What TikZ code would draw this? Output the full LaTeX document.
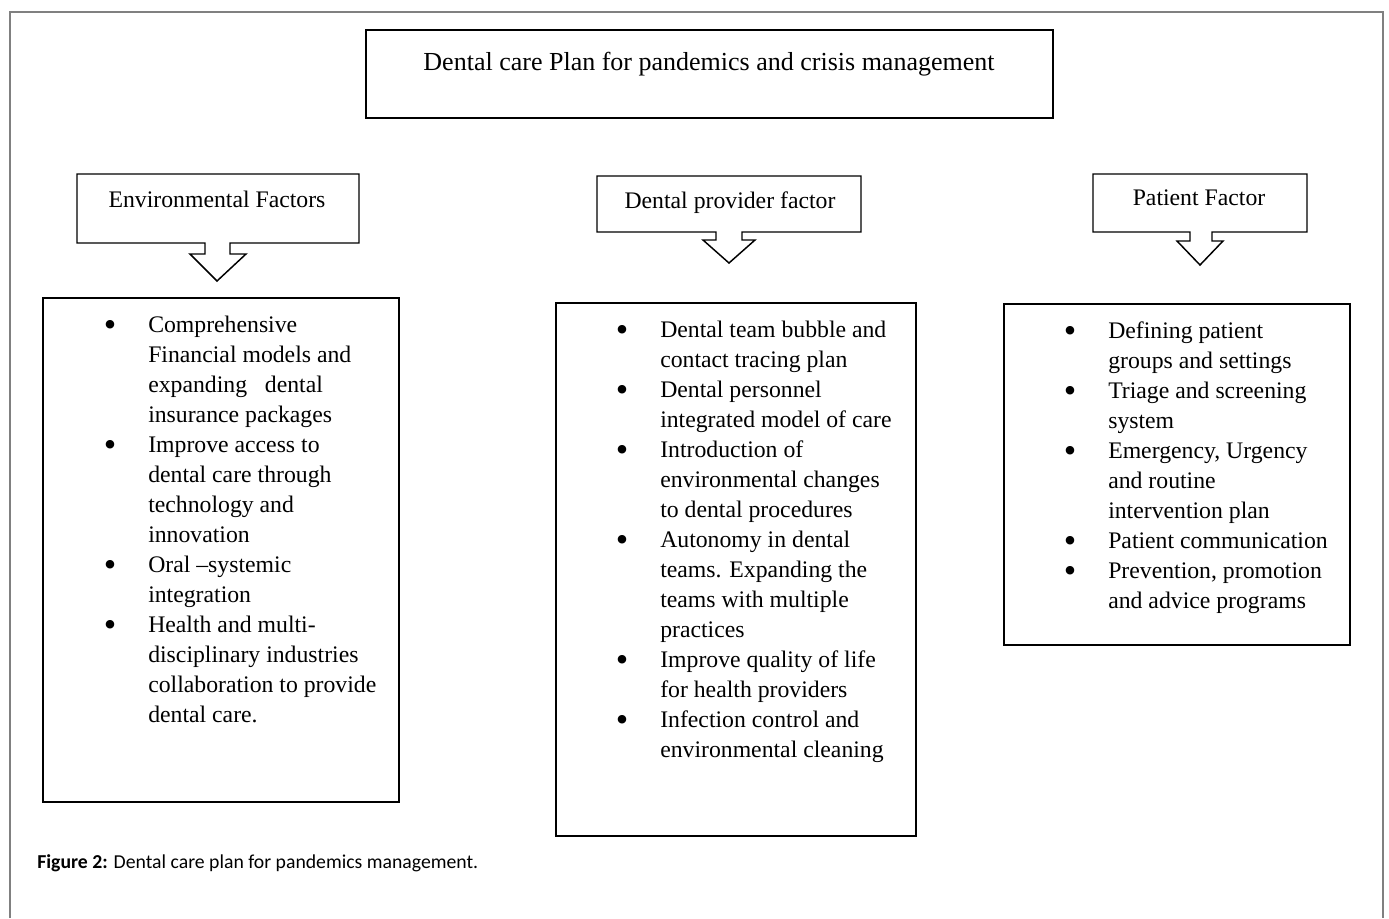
\documentclass[tikz,border=0pt]{standalone}
\usepackage{fontspec}
\usepackage{graphicx}
\setmainfont{Liberation Serif}
\newfontfamily\capfont{Carlito}
\newcommand\bi{\llap{\raisebox{-3.5pt}{\scalebox{1.5}{\textbullet}}\hspace{23.9pt}}}
\begin{document}
\begin{tikzpicture}[x=0.75pt,y=-0.75pt,
  frame/.style={draw=black!50, line width=1.4pt},
  boxline/.style={draw=black, line width=1.1pt},
  bigbox/.style={boxline, inner sep=0pt, outer sep=0pt, anchor=north west},
  headtext/.style={font=\fontsize{17.8}{22.5}\selectfont, inner sep=0pt, anchor=base},
  titletext/.style={font=\fontsize{19.5}{23}\selectfont, inner sep=0pt, anchor=base},
  listtext/.style={font=\fontsize{17.8}{22.5}\selectfont, inner sep=0pt, anchor=north west, align=left},
  captext/.style={font=\capfont\fontsize{14.8}{17}\selectfont, inner sep=0pt, anchor=base west}]
\useasboundingbox (0,0) rectangle (1389,918);
% outer frame
\draw[frame] (10,918) -- (10,12) -- (1383,12) -- (1383,918);
% title
\node[bigbox, minimum width=515.25pt, minimum height=66pt] (titlebox) at (366,30) {};
\node[titletext] (title) at (709,70) {Dental care Plan for pandemics and crisis management};
% callouts
\draw[boxline, line join=miter] (77,174) -- (359,174) -- (359,243) -- (230,243) -- (230,254) -- (246,254) -- (217,281) -- (190,254) -- (205,254) -- (205,243) -- (77,243) -- cycle;
\node[headtext] (env) at (217,207) {Environmental Factors};
\draw[boxline, line join=miter] (597,176) -- (861,176) -- (861,232) -- (742,232) -- (742,240) -- (755,240) -- (729,263) -- (703,240) -- (716,240) -- (716,232) -- (597,232) -- cycle;
\node[headtext] (prov) at (730,208) {Dental provider factor};
\draw[boxline, line join=miter] (1093,174) -- (1307,174) -- (1307,232) -- (1212,232) -- (1212,241) -- (1223,241) -- (1200,265) -- (1177,241) -- (1190,241) -- (1190,232) -- (1093,232) -- cycle;
\node[headtext] (pat) at (1199,205) {Patient Factor};
% list boxes
\node[bigbox, minimum width=267pt, minimum height=378pt] (envbox) at (43,298) {};
\node[bigbox, minimum width=270pt, minimum height=399.75pt] (provbox) at (556,303) {};
\node[bigbox, minimum width=259.5pt, minimum height=255.75pt] (patbox) at (1004,304) {};
% lists
\node[listtext] (envlist) at (148,311) {\strut\bi Comprehensive\\
Financial models and\\
expanding \ \ dental\\
insurance packages\\
\bi Improve access to\\
dental care through\\
technology and\\
innovation\\
\bi Oral –systemic\\
integration\\
\bi Health and multi-\\
disciplinary industries\\
collaboration to provide\\
dental care.};
\node[listtext] (provlist) at (660,316) {\strut\bi Dental team bubble and\\
contact tracing plan\\
\bi Dental personnel\\
integrated model of care\\
\bi Introduction of\\
environmental changes\\
to dental procedures\\
\bi Autonomy in dental\\
teams. Expanding the\\
teams with multiple\\
practices\\
\bi Improve quality of life\\
for health providers\\
\bi Infection control and\\
environmental cleaning};
\node[listtext] (patlist) at (1108,317) {\strut\bi Defining patient\\
groups and settings\\
\bi Triage and screening\\
system\\
\bi Emergency, Urgency\\
and routine\\
intervention plan\\
\bi Patient communication\\
\bi Prevention, promotion\\
and advice programs};
% caption
\node[captext] (cap) at (37,868) {\textbf{Figure 2:} Dental care plan for pandemics management.};
\end{tikzpicture}
\end{document}
